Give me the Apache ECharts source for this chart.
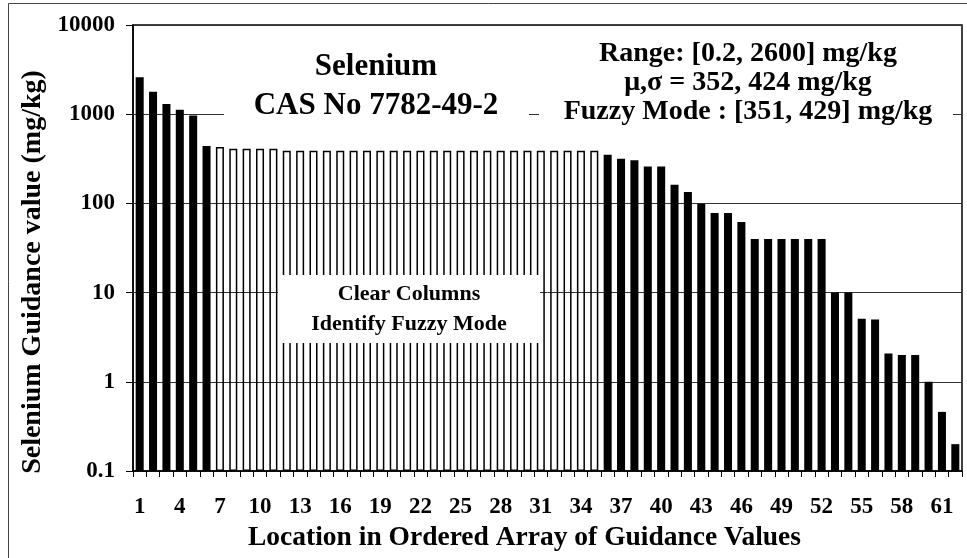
<!DOCTYPE html>
<html>
<head>
<meta charset="utf-8">
<script src="https://cdn.jsdelivr.net/npm/echarts@6/dist/echarts.min.js"></script>
<style>
  html, body { margin: 0; padding: 0; background: #fff; }
  #chart { width: 967px; height: 558px; }
</style>
</head>
<body>
<div id="chart"></div>
<script>
  // ordered guidance values (mg/kg), location 1..62
  var locations = [];
  for (var k = 1; k <= 62; k++) locations.push(String(k));
  var guidanceValues = [
    2600, 1780, 1300, 1120, 970, 440,
    429, 410, 410, 410, 410,
    390, 390, 390, 390, 390, 390, 390, 390, 390, 390, 390, 390,
    390, 390, 390, 390, 390, 390, 390, 390, 390, 390, 390, 390,
    351, 317, 304, 260, 260, 162, 134, 99, 78, 78, 62,
    40, 40, 40, 40, 40, 40, 10, 10, 5.1, 5, 2.07, 2, 2, 1, 0.46, 0.2
  ];
  // fuzzy mode columns (1-based locations) drawn as clear columns
  var fuzzyFrom = 7, fuzzyTo = 35;
  var yTicks = [0.1, 1, 10, 100, 1000, 10000];

  var font = '"Liberation Serif", "Times New Roman", serif';
  var myChart = echarts.init(document.getElementById('chart'));

  var barData = guidanceValues.map(function (v, i) {
    var loc = i + 1;
    if (loc >= fuzzyFrom && loc <= fuzzyTo) {
      return { value: v, itemStyle: { color: 'rgba(0,0,0,0)', borderColor: '#000', borderWidth: 1.5 } };
    }
    return v;
  });

  var option = {
    animation: false,
    backgroundColor: '#fff',
    grid: {
      left: 133, right: 5, top: 25, bottom: 87,
      show: true, borderColor: '#000', borderWidth: 1.5, backgroundColor: 'transparent'
    },
    xAxis: {
      type: 'category',
      data: locations,
      name: 'Location in Ordered Array of Guidance Values',
      nameLocation: 'middle',
      nameGap: 37,
      nameTextStyle: { fontFamily: font, fontWeight: 'bold', fontSize: 27.5, color: '#000', padding: [0, 46, 0, 0] },
      axisLine: { lineStyle: { color: '#000', width: 1.5 } },
      axisTick: { show: true, interval: 0, length: 6, lineStyle: { color: '#000' } },
      axisLabel: { interval: 2, margin: 25, fontFamily: font, fontWeight: 'bold', fontSize: 23, color: '#000' }
    },
    yAxis: {
      type: 'log',
      logBase: 10,
      min: yTicks[0],
      max: yTicks[yTicks.length - 1],
      startValue: yTicks[0],
      name: 'Selenium Guidance value (mg/kg)',
      nameLocation: 'middle',
      nameGap: 85,
      nameTextStyle: { fontFamily: font, fontWeight: 'bold', fontSize: 28, color: '#000', padding: [0, 48, 0, 0] },
      axisLine: { show: true, lineStyle: { color: '#000', width: 1.5 } },
      axisTick: { show: true, length: 7, lineStyle: { color: '#000' } },
      axisLabel: {
        margin: 18, fontFamily: font, fontWeight: 'bold', fontSize: 23, color: '#000',
        formatter: function (v) { return String(+v.toPrecision(6)); }
      },
      splitLine: { show: true, lineStyle: { color: '#333', width: 1 } }
    },
    series: [{
      type: 'bar',
      data: barData,
      barWidth: '60%',
      itemStyle: { color: '#000' }
    }],
    graphic: [
      { type: 'rect', z: 100, shape: { x: 8.5, y: 3.5, width: 1000, height: 600 },
        style: { fill: 'none', stroke: '#444', lineWidth: 1 } },
      { type: 'rect', z: 100, shape: { x: 224, y: 30, width: 305, height: 105 }, style: { fill: '#fff' } },
      { type: 'text', z: 101, x: 376, y: 86,
        style: { text: 'Selenium\nCAS No 7782-49-2', font: 'bold 31px ' + font, fill: '#000',
          align: 'center', verticalAlign: 'middle', lineHeight: 39 } },
      { type: 'rect', z: 100, shape: { x: 539, y: 30, width: 414, height: 100 }, style: { fill: '#fff' } },
      { type: 'text', z: 101, x: 748, y: 83,
        style: { text: 'Range: [0.2, 2600] mg/kg\n\u03bc,\u03c3 = 352, 424 mg/kg\nFuzzy Mode : [351, 429] mg/kg',
          font: 'bold 28px ' + font, fill: '#000', align: 'center', verticalAlign: 'middle', lineHeight: 29 } },
      { type: 'rect', z: 100, shape: { x: 278, y: 275, width: 262, height: 68 }, style: { fill: '#fff' } },
      { type: 'text', z: 101, x: 409, y: 309,
        style: { text: 'Clear Columns\nIdentify Fuzzy Mode', font: 'bold 22px ' + font, fill: '#000',
          align: 'center', verticalAlign: 'middle', lineHeight: 30 } }
    ]
  };
  myChart.setOption(option);
  window.addEventListener('resize', function () { myChart.resize(); });
</script>
</body>
</html>
